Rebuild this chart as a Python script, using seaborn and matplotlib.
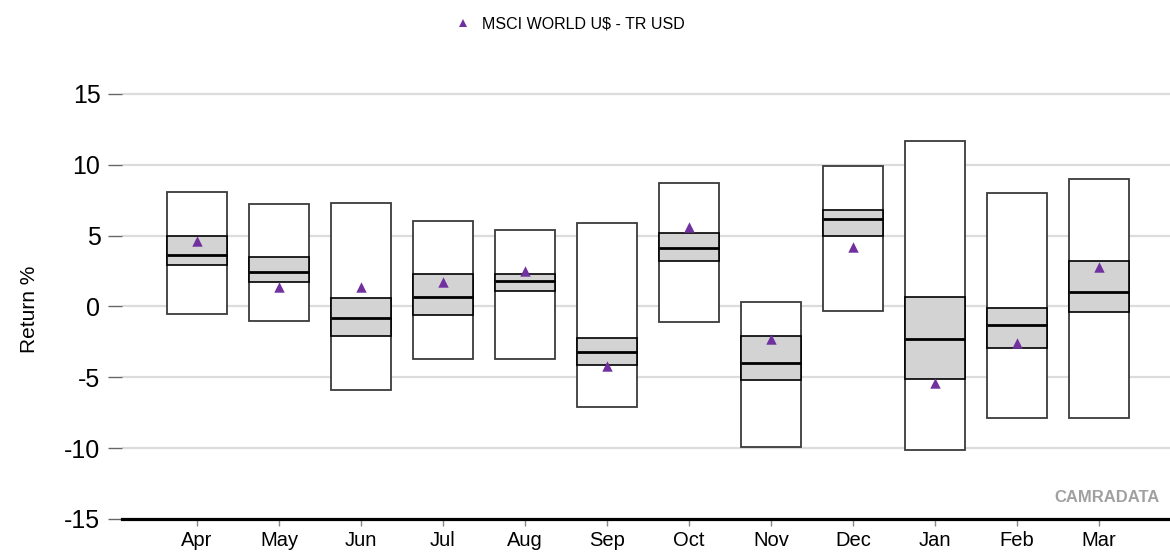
import matplotlib
matplotlib.use("Agg")
import matplotlib.pyplot as plt
from matplotlib.lines import Line2D
from matplotlib import font_manager
import seaborn as sns
import pandas as pd

# Monthly return distribution (high / upper quartile / median / lower quartile / low) and index
months = ["Apr", "May", "Jun", "Jul", "Aug", "Sep", "Oct", "Nov", "Dec", "Jan", "Feb", "Mar"]
high = [8.1, 7.2, 7.3, 6.0, 5.4, 5.9, 8.7, 0.3, 9.9, 11.7, 8.0, 9.0]
upper_q = [5.0, 3.5, 0.6, 2.3, 2.3, -2.2, 5.2, -2.1, 6.8, 0.7, -0.1, 3.2]
median = [3.6, 2.4, -0.8, 0.7, 1.8, -3.2, 4.1, -4.0, 6.2, -2.3, -1.3, 1.0]
lower_q = [2.9, 1.7, -2.1, -0.6, 1.1, -4.1, 3.2, -5.2, 5.0, -5.1, -2.9, -0.4]
low = [-0.5, -1.0, -5.9, -3.7, -3.7, -7.1, -1.1, -9.9, -0.3, -10.1, -7.9, -7.9]
msci = [4.6, 1.4, 1.4, 1.7, 2.5, -4.2, 5.6, -2.3, 4.2, -5.4, -2.6, 2.8]
yticks = [-15, -10, -5, 0, 5, 10, 15]
index_name = r"MSCI WORLD U\$ - TR USD"

PURPLE = "#7030A0"
BAND = "#d3d3d3"
GRID = "#dcdcdc"

sns.set_style("white")
plt.rcParams["font.family"] = ["Liberation Sans", "DejaVu Sans"]
plt.rcParams["text.color"] = "black"
plt.rcParams["axes.labelcolor"] = "black"

installed = {f.name for f in font_manager.fontManager.ttflist}
narrow = "Liberation Sans Narrow" if "Liberation Sans Narrow" in installed else "Liberation Sans"

df = pd.DataFrame({
    "month": months, "high": high, "upper_q": upper_q, "median": median,
    "lower_q": lower_q, "low": low, "msci": msci,
})

fig = plt.figure(figsize=(11.7, 5.54), dpi=100)
ax = fig.add_axes([122 / 1170, 35 / 554, 1048 / 1170, 439.3 / 554])

# benchmark index markers on a categorical month axis
sns.stripplot(data=df, x="month", y="msci", order=months, jitter=False,
              marker="^", size=7.5, color=PURPLE, linewidth=0, zorder=6, ax=ax)

pos = list(range(len(months)))
width = 0.73

# horizontal grid
for yv in yticks[1:]:
    ax.axhline(yv, color=GRID, lw=1.6, zorder=0)

# full range boxes
ax.bar(pos, df["high"] - df["low"], bottom=df["low"], width=width,
       facecolor="white", edgecolor="#3a3a3a", linewidth=1.3, zorder=2)
# interquartile bands
ax.bar(pos, df["upper_q"] - df["lower_q"], bottom=df["lower_q"], width=width,
       facecolor=BAND, edgecolor="black", linewidth=1.2, zorder=3)
# medians
ax.hlines(df["median"], [p - width / 2 for p in pos], [p + width / 2 for p in pos],
          color="black", lw=2.0, zorder=4)

ax.set_xlim(-0.915, 11.866)
ax.set_ylim(-15, 16)
ax.set_yticks(yticks)
ax.set_yticklabels([str(v) for v in yticks])
ax.set_xticks(pos)
ax.set_xticklabels(months)
ax.set_xlabel("")
ax.set_ylabel("Return %", fontsize=15, color="black")
ax.yaxis.set_label_coords(-0.079, 0.478)

for side in ("top", "right", "left"):
    ax.spines[side].set_visible(False)
ax.spines["bottom"].set_color("black")
ax.spines["bottom"].set_linewidth(2.3)
ax.spines["bottom"].set_zorder(7)

ax.tick_params(axis="y", left=True, length=10, width=1.0, color="#666666",
               pad=5.5, labelsize=18, labelcolor="black")
ax.tick_params(axis="x", bottom=True, length=5, width=1.0, color="#888888",
               pad=4, labelsize=14.5, labelcolor="black")
ax.grid(False)

handle = Line2D([], [], marker="^", ls="none", color=PURPLE, markersize=6,
                markeredgewidth=0, label=index_name)
fig.legend(handles=[handle], loc="center", bbox_to_anchor=(570 / 1170, 1 - 24 / 554),
           frameon=False, prop={"family": narrow, "size": 11.5}, labelcolor="black",
           handletextpad=0.7, handlelength=1.0, borderaxespad=0)

fig.text(1160 / 1170, 1 - 498 / 554, "CAMRADATA", ha="right", va="center",
         fontsize=12, fontweight="bold", color="#a0a0a0")

fig.savefig("out.png", dpi=100)
